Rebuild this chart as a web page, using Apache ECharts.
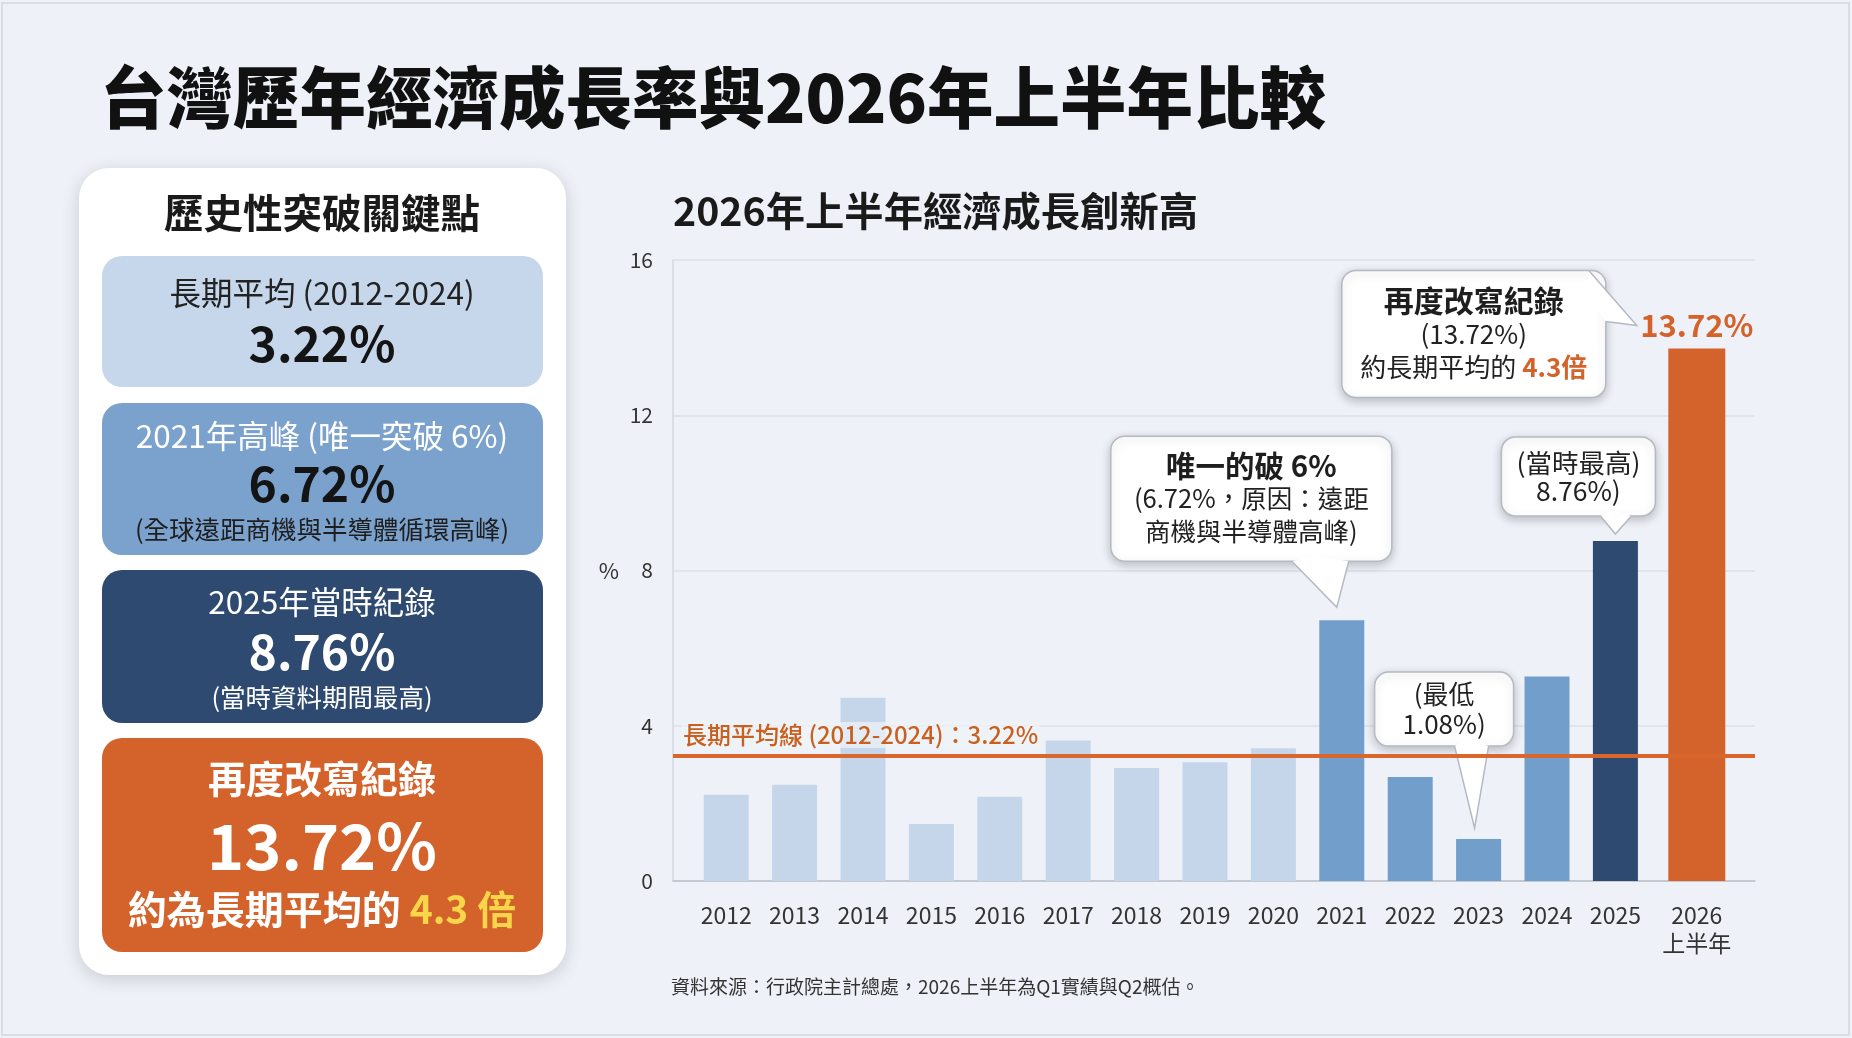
<!DOCTYPE html>
<html>
<head>
<meta charset="utf-8">
<title>台灣歷年經濟成長率與2026年上半年比較</title>
<script src="https://cdn.jsdelivr.net/npm/echarts@6/dist/echarts.min.js"></script>
<style>
  html, body { margin: 0; padding: 0; background: #eef2f8; }
  #chart { width: 1852px; height: 1038px; }
</style>
</head>
<body>
<div id="chart"></div>
<script>
// --- data ---
const years = ['2012', '2013', '2014', '2015', '2016', '2017', '2018', '2019', '2020',
  '2021', '2022', '2023', '2024', '2025', '2026\n上半年'];
const growth = [2.22, 2.48, 4.72, 1.47, 2.17, 3.62, 2.91, 3.06, 3.42,
  6.72, 2.68, 1.08, 5.27, 8.76, 13.72];
// which colour group each bar belongs to
const tiers = ['light', 'light', 'light', 'light', 'light', 'light', 'light', 'light', 'light',
  'mid', 'mid', 'mid', 'mid', 'dark', 'record'];
const longTermAvg = 3.22;
const yTicks = [0, 4, 8, 12, 16];

const FONT = "'Noto Sans CJK TC', 'Noto Sans', sans-serif";
const tierColor = { light: '#c5d6eb', mid: '#729ecb', dark: '#2e4a71', record: '#d4622b' };
const ORANGE = '#d4622b';

const recordIdx = tiers.indexOf('record');
const peakIdx = growth.indexOf(Math.max(...growth.slice(0, 13)));
const prevHighIdx = tiers.indexOf('dark');
const lowIdx = growth.indexOf(Math.min(...growth));
const ratio = (growth[recordIdx] / longTermAvg).toFixed(1);
const yMin = yTicks[0], yMax = yTicks[yTicks.length - 1];

const xLabel = { color: '#333', fontSize: 23, margin: 20, lineHeight: 28 };

const chart = echarts.init(document.getElementById('chart'));

chart.setOption({
  animation: false,
  backgroundColor: '#eef2f8',
  textStyle: { fontFamily: FONT },
  grid: [
    { left: 692, right: 134, top: 260, bottom: 157 },
    { left: 673, right: 97, top: 260, bottom: 157 },
    // the half-year bar sits a little to the right of the yearly rhythm
    { left: 705, right: 121, top: 260, bottom: 157 }
  ],
  xAxis: [
    {
      type: 'category', gridIndex: 0, data: years,
      axisLine: { show: false }, axisTick: { show: false },
      axisLabel: Object.assign({ interval: (i) => tiers[i] !== 'record' }, xLabel)
    },
    {
      type: 'value', gridIndex: 1, min: 0, max: 1,
      axisLine: { show: true, lineStyle: { color: '#b9bfc9', width: 1.5 } },
      axisTick: { show: false }, axisLabel: { show: false }, splitLine: { show: false }
    },
    {
      type: 'category', gridIndex: 2, data: years,
      axisLine: { show: false }, axisTick: { show: false },
      axisLabel: Object.assign({ interval: (i) => tiers[i] === 'record' }, xLabel)
    }
  ],
  yAxis: [
    { type: 'value', gridIndex: 0, min: yMin, max: yMax, show: false },
    {
      type: 'value', gridIndex: 1, min: yMin, max: yMax,
      interval: yTicks[1] - yTicks[0],
      name: '%', nameLocation: 'middle', nameGap: 54, nameRotate: 0,
      nameTextStyle: { color: '#333', fontSize: 22 },
      axisLine: { show: true, lineStyle: { color: '#d3d8e0', width: 1.5 } },
      axisTick: { show: false },
      axisLabel: { color: '#333', fontSize: 21, margin: 20 },
      splitLine: { lineStyle: { color: '#dbe0e8', width: 1.5 } }
    },
    { type: 'value', gridIndex: 2, min: yMin, max: yMax, show: false }
  ],
  series: [
    {
      name: '經濟成長率', type: 'bar', xAxisIndex: 0, yAxisIndex: 0,
      barWidth: 45,
      data: growth.map((v, i) => (tiers[i] === 'record' ? '-' : {
        value: v, itemStyle: { color: tierColor[tiers[i]] }
      }))
    },
    {
      name: '2026上半年', type: 'bar', xAxisIndex: 2, yAxisIndex: 2,
      barWidth: 57,
      data: growth.map((v, i) => (tiers[i] === 'record' ? v : '-')),
      itemStyle: { color: tierColor.record },
      label: {
        show: true, position: 'top', distance: 8,
        formatter: (p) => p.value.toFixed(2) + '%',
        color: ORANGE, fontSize: 31, fontWeight: 'bold', fontFamily: FONT
      }
    },
    {
      name: '長期平均線', type: 'line', xAxisIndex: 1, yAxisIndex: 1, data: [],
      markLine: {
        silent: true, symbol: ['none', 'none'],
        lineStyle: { color: '#d9662a', width: 4, type: 'solid' },
        data: [{ yAxis: longTermAvg }],
        label: {
          position: 'insideStartTop', distance: [8, 8],
          formatter: '長期平均線 (2012-2024)：' + longTermAvg.toFixed(2) + '%',
          color: '#c9601f', fontSize: 24, fontWeight: 500, fontFamily: FONT,
          backgroundColor: 'rgba(238,242,248,0.72)', padding: [1, 2]
        }
      }
    }
  ]
});

// --- speech bubbles, anchored to the bars ---
function bubble(tip, box, base, text, rich, lineHeight) {
  const x = tip[0], y = tip[1];
  const rect = { x: x + box[0], y: y + box[2], width: box[1] - box[0], height: box[3] - box[2] };
  const b1 = [x + base[0][0], y + base[0][1]];
  const b2 = [x + base[1][0], y + base[1][1]];
  const cx = rect.x + rect.width / 2, cy = rect.y + rect.height / 2;
  const mx = (b1[0] + b2[0]) / 2, my = (b1[1] + b2[1]) / 2;
  const len = Math.hypot(cx - mx, cy - my) || 1;
  const inner = [mx + (cx - mx) / len * 8, my + (cy - my) / len * 8];
  return {
    type: 'group', z: 50,
    children: [
      {
        type: 'rect', shape: Object.assign({ r: 14 }, rect),
        style: {
          fill: '#fff', stroke: '#b4b9c2', lineWidth: 1.5,
          shadowBlur: 10, shadowColor: 'rgba(0,0,0,0.22)', shadowOffsetY: 3
        }
      },
      { type: 'polygon', shape: { points: [b1, [x, y], b2, inner] }, style: { fill: '#fff' } },
      { type: 'polyline', shape: { points: [b1, [x, y], b2] }, style: { stroke: '#b4b9c2', lineWidth: 1.5, fill: null } },
      {
        type: 'text',
        style: {
          x: cx, y: cy, text: text, align: 'center', verticalAlign: 'middle',
          fontFamily: FONT, lineHeight: lineHeight, rich: rich
        }
      }
    ]
  };
}

function px(grid, idx, val) {
  return chart.convertToPixel({ xAxisIndex: grid, yAxisIndex: grid }, [idx, val]);
}

const richBase = (bold, normal, lh) => ({
  b: { fontSize: bold, fontWeight: 'bold', fill: '#1e1e1e', fontFamily: FONT, lineHeight: lh },
  n: { fontSize: normal, fill: '#222', fontFamily: FONT, lineHeight: lh },
  o: { fontSize: normal, fontWeight: 'bold', fill: ORANGE, fontFamily: FONT, lineHeight: lh }
});

const pRec = px(2, recordIdx, growth[recordIdx]);
const pPeak = px(0, peakIdx, growth[peakIdx]);
const pPrev = px(0, prevHighIdx, growth[prevHighIdx]);
const pLow = px(0, lowIdx, growth[lowIdx]);

const bubbles = [
  bubble([pRec[0] - 60, pRec[1] - 23], [-295, -31, -55, 72],
    [[-48, -55], [-31, -4]],
    '{b|再度改寫紀錄}\n{n|(' + growth[recordIdx].toFixed(2) + '%)}\n{n|約長期平均的 }{o|' + ratio + '倍}',
    richBase(30, 26, 33), 33),
  bubble([pPeak[0] - 5, pPeak[1] - 13], [-226, 55, -171, -46],
    [[-45, -46], [12, -46]],
    '{b|唯一的破 6%}\n{n|(' + growth[peakIdx].toFixed(2) + '%，原因：遠距}\n{n|商機與半導體高峰)}',
    richBase(29.5, 25.5, 33), 33),
  bubble([pPrev[0], pPrev[1] - 7], [-114, 40, -97, -18],
    [[-15, -18], [16, -18]],
    '{n|(當時最高)}\n{n|' + growth[prevHighIdx].toFixed(2) + '%)}',
    richBase(26.5, 26.5, 28), 28),
  bubble([pLow[0] - 4, pLow[1] - 11], [-100, 39, -156, -82],
    [[-20, -82], [14, -82]],
    '{n|(最低}\n{n|' + growth[lowIdx].toFixed(2) + '%)}',
    richBase(26, 26, 30), 30)
];

// --- left summary panel ---
const cards = [
  { y: 256, h: 131, fill: '#c6d7ec', lines: [
    { t: '長期平均 (2012-2024)', dy: 37, size: 31.5, color: '#222' },
    { t: longTermAvg.toFixed(2) + '%', dy: 88, size: 48, color: '#141414', bold: true }] },
  { y: 403, h: 152, fill: '#7ba1cd', lines: [
    { t: '2021年高峰 (唯一突破 6%)', dy: 33, size: 31.5, color: '#fff' },
    { t: growth[peakIdx].toFixed(2) + '%', dy: 81, size: 48, color: '#141414', bold: true },
    { t: '(全球遠距商機與半導體循環高峰)', dy: 126, size: 25.5, color: '#1e1e1e' }] },
  { y: 570, h: 153, fill: '#2e4a71', lines: [
    { t: '2025年當時紀錄', dy: 32, size: 31.5, color: '#fff' },
    { t: growth[prevHighIdx].toFixed(2) + '%', dy: 82, size: 48, color: '#fff', bold: true },
    { t: '(當時資料期間最高)', dy: 127, size: 25.5, color: '#fff' }] },
  { y: 738, h: 214, fill: '#d4622b', lines: [
    { t: '再度改寫紀錄', dy: 41, size: 38, color: '#fff', bold: true },
    { t: growth[recordIdx].toFixed(2) + '%', dy: 108, size: 63, color: '#fff', bold: true },
    { t: '{w|約為長期平均的 }{y|' + ratio + ' 倍}', dy: 171, size: 39, color: '#fff', bold: true }] }
];

const panel = [
  {
    type: 'rect', shape: { x: 79, y: 168, width: 487, height: 807, r: 30 },
    style: { fill: '#fff', shadowBlur: 18, shadowColor: 'rgba(0,0,0,0.16)', shadowOffsetY: 4 }
  },
  {
    type: 'text', style: {
      x: 322, y: 213, text: '歷史性突破關鍵點', align: 'center', verticalAlign: 'middle',
      fontFamily: FONT, fontSize: 39.5, fontWeight: 'bold', fill: '#1a1a1a'
    }
  }
];
cards.forEach((c) => {
  panel.push({ type: 'rect', shape: { x: 102, y: c.y, width: 441, height: c.h, r: 20 }, style: { fill: c.fill } });
  c.lines.forEach((l) => {
    panel.push({
      type: 'text', style: {
        x: 322, y: c.y + l.dy, text: l.t, align: 'center', verticalAlign: 'middle',
        fontFamily: FONT, fontSize: l.size, fontWeight: l.bold ? 'bold' : 'normal', fill: l.color,
        rich: {
          w: { fontSize: l.size, fontWeight: 'bold', fill: '#fff', fontFamily: FONT },
          y: { fontSize: l.size, fontWeight: 'bold', fill: '#f9d54a', fontFamily: FONT }
        }
      }
    });
  });
});

const texts = [
  {
    type: 'rect', shape: { x: 2, y: 3, width: 1847, height: 1032 },
    style: { fill: null, stroke: '#d3d7dd', lineWidth: 1.5 }, silent: true
  },
  {
    type: 'text', style: {
      x: 100, y: 98, text: '台灣歷年經濟成長率與2026年上半年比較', verticalAlign: 'middle',
      fontFamily: FONT, fontSize: 66.5, fontWeight: 900, fill: '#111'
    }
  },
  {
    type: 'text', style: {
      x: 673, y: 211, text: '2026年上半年經濟成長創新高', verticalAlign: 'middle',
      fontFamily: FONT, fontSize: 39.3, fontWeight: 'bold', fill: '#1a1a1a'
    }
  },
  {
    type: 'text', style: {
      x: 671, y: 987, text: '資料來源：行政院主計總處，2026上半年為Q1實績與Q2概估。', verticalAlign: 'middle',
      fontFamily: FONT, fontSize: 19, fill: '#333'
    }
  }
];

chart.setOption({ graphic: texts.concat(panel, bubbles) });
</script>
</body>
</html>
